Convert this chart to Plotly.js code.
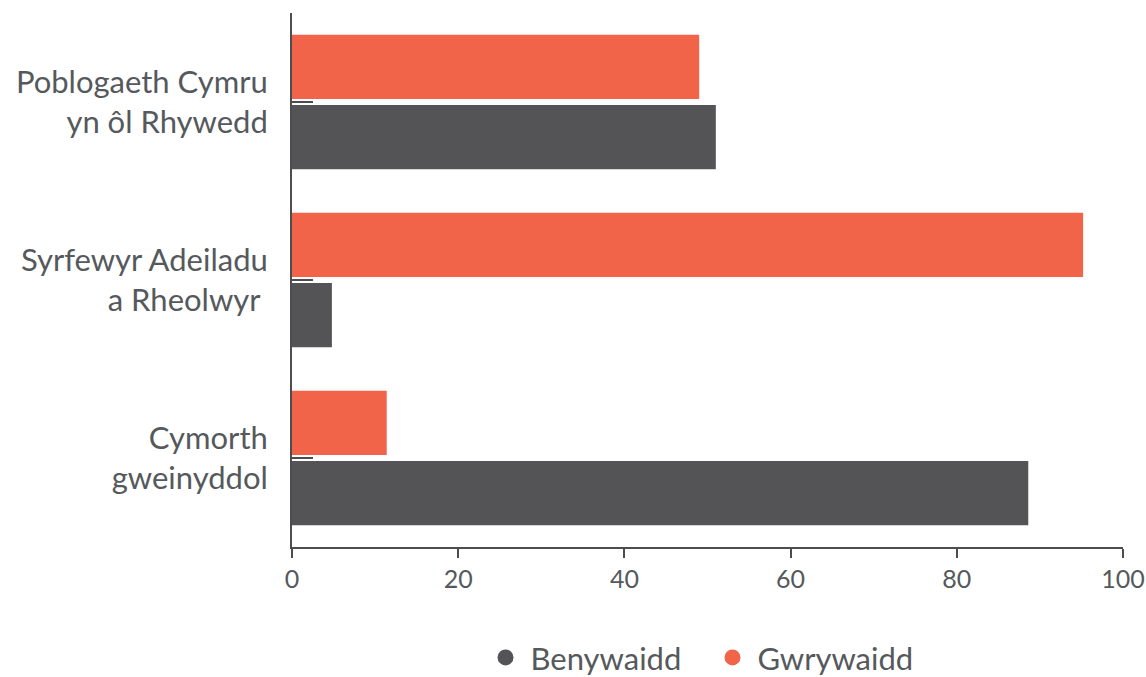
<!DOCTYPE html>
<html>
<head>
<meta charset="utf-8">
<script src="https://cdn.plot.ly/plotly-3.0.1.min.js"></script>
<style>html,body{margin:0;padding:0;background:#fff;}#chart{width:1146px;height:677px;}</style>
</head>
<body>
<div id="chart"></div>
<script>
// Categories listed bottom-to-top
var categories = ["Cymorth<br>gweinyddol", "Syrfewyr Adeiladu<br>a Rheolwyr ", "Poblogaeth Cymru<br>yn ôl Rhywedd"];
var benywaidd = [88.6, 4.8, 51];
var gwrywaidd = [11.4, 95.2, 49];
var seriesNames = ["Benywaidd", "Gwrywaidd"];
var xTicks = [0, 20, 40, 60, 80, 100];

var colDark = "#545456";
var colOrange = "#F2644A";
var textCol = "#55595c";
var fontFam = "Lato, 'Open Sans', sans-serif";

var traces = [
  {type: "bar", orientation: "h", name: seriesNames[0], y: categories, x: benywaidd,
   marker: {color: colDark}, showlegend: false, hoverinfo: "x"},
  {type: "bar", orientation: "h", name: seriesNames[1], y: categories, x: gwrywaidd,
   marker: {color: colOrange}, showlegend: false, hoverinfo: "x"},
  {type: "scatter", mode: "markers", name: seriesNames[0], x: [null], y: [null],
   marker: {color: colDark, size: 20, symbol: "circle"}},
  {type: "scatter", mode: "markers", name: seriesNames[1], x: [null], y: [null],
   marker: {color: colOrange, size: 20, symbol: "circle"}}
];

var layout = {
  width: 1146, height: 677,
  margin: {l: 292, r: 23, t: 13, b: 130, autoexpand: false},
  paper_bgcolor: "#fff", plot_bgcolor: "#fff",
  font: {family: fontFam, color: textCol, size: 26},
  barmode: "group",
  bargap: 0.21,
  bargroupgap: 0.085,
  xaxis: {
    range: [0, 100], tickvals: xTicks, ticktext: xTicks.map(String),
    showgrid: false, zeroline: false, automargin: false,
    showline: true, linecolor: "#4d4d4f", linewidth: 2,
    ticks: "outside", ticklen: 9, tickwidth: 2, tickcolor: "#4d4d4f",
    tickfont: {size: 25, color: textCol, family: fontFam}
  },
  yaxis: {
    type: "category", categoryorder: "array", categoryarray: categories,
    range: [-0.5, 2.5], automargin: false,
    showgrid: false, zeroline: false,
    showline: true, linecolor: "#4d4d4f", linewidth: 2,
    ticks: "inside", ticklen: 21, tickwidth: 2, tickcolor: "#4d4d4f",
    ticklabelstandoff: 16,
    tickfont: {size: 31, color: textCol, family: fontFam}
  },
  legend: {
    orientation: "h", x: 0.5, xanchor: "center", y: -0.258, yanchor: "bottom",
    font: {size: 31, color: textCol, family: fontFam},
    itemwidth: 40, entrywidth: 172, entrywidthmode: "pixels", traceorder: "normal"
  },
  hovermode: false
};

Plotly.newPlot("chart", traces, layout, {displayModeBar: false, staticPlot: true});
</script>
</body>
</html>
